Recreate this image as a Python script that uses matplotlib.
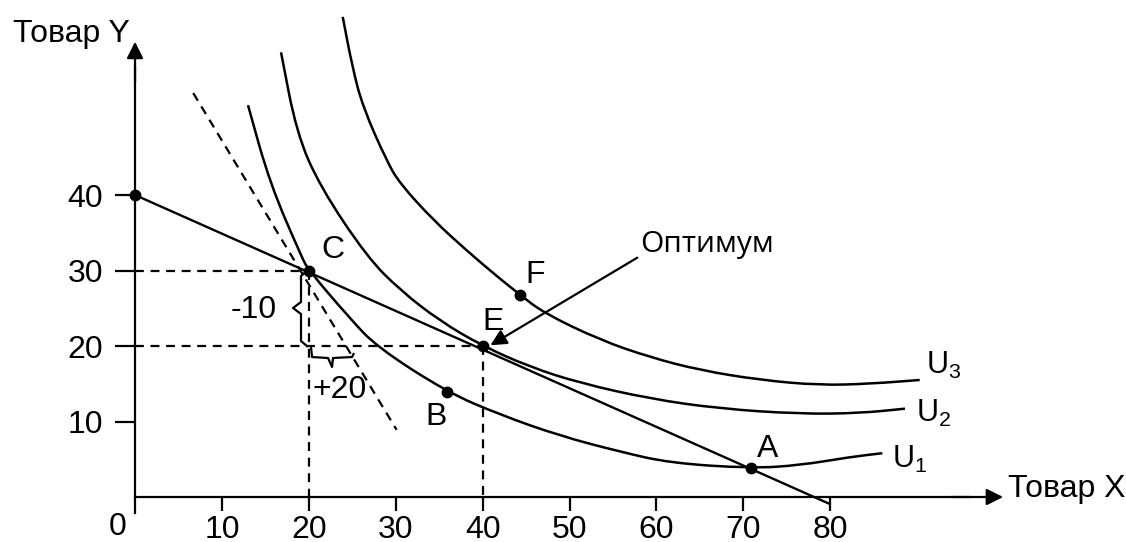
import matplotlib
matplotlib.use("Agg")
import matplotlib.pyplot as plt
from matplotlib.path import Path
import matplotlib.patches as mpatches

plt.rcParams['font.family'] = ['Liberation Sans', 'DejaVu Sans']
plt.rcParams['mathtext.fontset'] = 'custom'
plt.rcParams['mathtext.rm'] = 'Liberation Sans'
plt.rcParams['mathtext.it'] = 'Liberation Sans'

# indifference curves
u1_x = [13.0, 15.5, 19.2, 20.0, 24.7, 27.8, 35.9, 42.0, 48.9, 55.8, 61.6, 70.9, 76.5, 82.3, 86.0]
u1_y = [51.9, 41.6, 31.7, 30.0, 23.7, 19.9, 13.9, 10.9, 8.1, 6.0, 4.5, 3.8, 4.2, 5.3, 5.8]

u2_x = [16.8, 18.6, 21.3, 26.7, 30.5, 35.1, 40.0, 45.5, 51.2, 59.3, 67.3, 76.5, 83.4, 88.6]
u2_y = [58.9, 48.2, 41.1, 31.8, 27.4, 23.3, 20.0, 17.2, 15.1, 13.0, 11.7, 11.0, 11.1, 11.7]

u3_x = [23.9, 25.0, 26.2, 29.0, 30.5, 34.3, 38.2, 42.0, 44.3, 47.0, 53.5, 59.3, 65.0, 71.9, 78.8, 84.6, 90.3]
u3_y = [63.6, 57.0, 51.7, 44.4, 41.5, 36.7, 32.6, 28.9, 26.8, 24.4, 20.8, 18.5, 16.8, 15.5, 14.8, 15.0, 15.5]

# budget line and the steeper dashed line
budget_x = [0, 79.9]
budget_y = [40, -0.9]
steep_x = [6.7, 30.1]
steep_y = [53.5, 8.9]

# marked bundles
point_names = ['', 'C', 'E', 'B', 'A', 'F']
point_x = [0, 20, 40, 35.9, 70.9, 44.3]
point_y = [40, 30, 20, 13.9, 3.8, 26.8]

x_ticks = [10, 20, 30, 40, 50, 60, 70, 80]
y_ticks = [10, 20, 30, 40]

FS = 23


def smooth_path(xs, ys):
    # quadratic spline through the midpoints, read points act as controls
    pts = list(zip(xs, ys))
    mids = [((a[0] + b[0]) / 2, (a[1] + b[1]) / 2) for a, b in zip(pts[:-1], pts[1:])]
    verts = [pts[0], mids[0]]
    codes = [Path.MOVETO, Path.LINETO]
    for i in range(1, len(pts) - 1):
        verts += [pts[i], mids[i]]
        codes += [Path.CURVE3, Path.CURVE3]
    verts.append(pts[-1])
    codes.append(Path.LINETO)
    return Path(verts, codes)


fig = plt.figure(figsize=(11.26, 5.42), dpi=100)
ax = fig.add_axes([0, 0, 1, 1])
ax.set_xlim(-15.54, 114.04)
ax.set_ylim(-5.96, 65.83)

# axes through the origin
for side in ['top', 'right']:
    ax.spines[side].set_visible(False)
ax.spines['left'].set_position(('data', 0))
ax.spines['bottom'].set_position(('data', 0))
ax.spines['left'].set_bounds(-2.1, 57)
ax.spines['bottom'].set_bounds(0, 96)
for side in ['left', 'bottom']:
    ax.spines[side].set_linewidth(1.6)

ax.set_xticks(x_ticks)
ax.set_yticks(y_ticks)
ax.tick_params(axis='x', direction='out', length=10, width=1.6, pad=3, labelsize=FS)
ax.tick_params(axis='y', direction='out', length=14.4, width=1.6, pad=8.6, labelsize=FS)

arr = dict(arrowstyle='-|>', color='k', lw=1.6, mutation_scale=25, shrinkA=0, shrinkB=0)
ax.annotate('', xy=(0, 60.3), xytext=(0, 55), arrowprops=arr)
ax.annotate('', xy=(99.9, 0), xytext=(94, 0), arrowprops=arr)

ax.text(-14.07, 60.26, 'Товар Y', fontsize=FS, ha='left', va='baseline')
ax.text(100.46, 0.0, 'Товар X', fontsize=FS, ha='left', va='baseline')
ax.text(-1.96, -5.0, '0', fontsize=FS, ha='center', va='baseline')

dash = (0, (4, 3))
# guide lines
ax.plot([0, 20], [30, 30], color='k', lw=1.6, ls=dash)
ax.plot([0, 40], [20, 20], color='k', lw=1.6, ls=dash)
ax.plot([20, 20], [30, 0], color='k', lw=1.6, ls=dash)
ax.plot([40, 40], [20, 0], color='k', lw=1.6, ls=dash)
ax.plot(steep_x, steep_y, color='k', lw=1.6, ls=dash)

# budget line and curves
ax.plot(budget_x, budget_y, color='k', lw=1.7, solid_capstyle='butt')
for xs, ys in [(u1_x, u1_y), (u2_x, u2_y), (u3_x, u3_y)]:
    ax.add_patch(mpatches.PathPatch(smooth_path(xs, ys), fill=False, lw=1.8,
                                    joinstyle='round', capstyle='butt'))

ax.plot(point_x, point_y, 'o', color='k', markersize=7.5, zorder=5)

label_pos = {'C': (21.5, 31.66), 'E': (40.0, 22.1), 'B': (33.4, 9.5),
             'A': (71.6, 5.3), 'F': (44.9, 28.3)}
for name in point_names:
    if name:
        lx, ly = label_pos[name]
        ax.text(lx, ly, name, fontsize=FS, ha='left', va='baseline')

ax.text(91.0, 16.3, r'$\mathrm{U}_3$', fontsize=22, ha='left', va='baseline')
ax.text(89.9, 9.9, r'$\mathrm{U}_2$', fontsize=22, ha='left', va='baseline')
ax.text(87.1, 3.8, r'$\mathrm{U}_1$', fontsize=22, ha='left', va='baseline')

# optimum pointer
ax.text(58.1, 32.45, 'Оптимум', fontsize=21.5, family=['Open Sans', 'DejaVu Sans'],
        ha='left', va='baseline')
ax.annotate('', xy=(40.9, 20.1), xytext=(57.8, 31.7),
            arrowprops=dict(arrowstyle='-|>', color='k', lw=1.6, mutation_scale=24,
                            shrinkA=0, shrinkB=0))

# braces for the change in goods
vbrace = [(19.91, 30.07), (19.10, 29.27), (19.10, 25.83), (18.18, 25.03),
          (19.10, 24.24), (19.10, 20.66), (19.91, 19.87)]
hbrace = [(20.25, 19.87), (20.37, 18.54), (22.21, 18.41), (22.67, 17.22),
          (22.78, 18.41), (24.97, 18.54), (25.2, 19.07)]
for pts in [vbrace, hbrace]:
    codes = [Path.MOVETO] + [Path.LINETO] * (len(pts) - 1)
    ax.add_patch(mpatches.PathPatch(Path(pts, codes), fill=False, lw=1.6,
                                    joinstyle='round'))
ax.text(11.0, 23.7, '-10', fontsize=FS, ha='left', va='baseline')
ax.text(20.4, 13.1, '+20', fontsize=FS, ha='left', va='baseline')

fig.savefig('out.png', dpi=100)
